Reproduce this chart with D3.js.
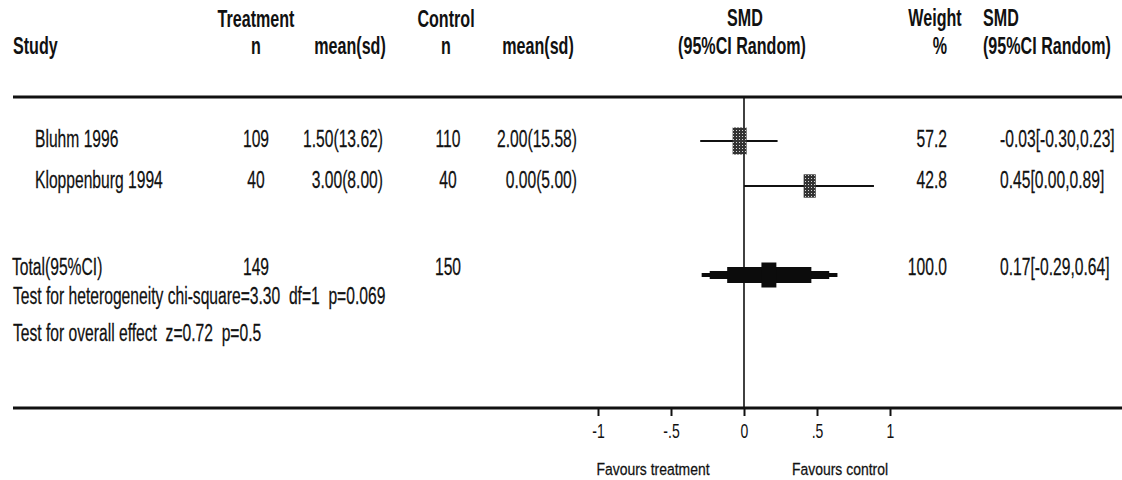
<!DOCTYPE html>
<html><head><meta charset="utf-8">
<script src="https://cdn.jsdelivr.net/npm/d3@7/dist/d3.min.js"></script>
<style>
html,body{margin:0;padding:0;background:#fff;}
svg{display:block;}
text{font-family:"Liberation Sans",Arial,sans-serif;fill:#111;white-space:pre;}
</style></head>
<body>
<svg id="chart" width="1122" height="480"></svg>
<script>
// ---- data ----
const studies = ["Bluhm 1996", "Kloppenburg 1994"];
const treatN = [109, 40];
const treatMeanSd = ["1.50(13.62)", "3.00(8.00)"];
const ctrlN = [110, 40];
const ctrlMeanSd = ["2.00(15.58)", "0.00(5.00)"];
const smd = [-0.03, 0.45];
const ciLow = [-0.30, 0.00];
const ciHigh = [0.23, 0.89];
const weights = [57.2, 42.8];
const totalLabel = "Total(95%CI)";
const totalTreatN = 149;
const totalCtrlN = 150;
const totalSmd = 0.17;
const totalLow = -0.29;
const totalHigh = 0.64;
const totalWeight = 100.0;
const heterogeneityText = "Test for heterogeneity chi-square=3.30  df=1  p=0.069";
const overallText = "Test for overall effect  z=0.72  p=0.5";
const tickValues = [-1, -0.5, 0, 0.5, 1];
const tickLabels = ["-1", "-.5", "0", ".5", "1"];
const favourLabels = ["Favours treatment", "Favours control"];

// ---- layout ----
const svg = d3.select("#chart");
const SX = 0.68;      // horizontal condensation of regular text
const SXB = 0.70;     // horizontal condensation of bold text
const FS = 23;        // main font size
const x = d3.scaleLinear().domain([-1, 1]).range([598, 890]);
const yRow = d3.scalePoint().domain(studies).range([147, 188]);
const yMark = d3.scalePoint().domain(studies).range([141, 186]);
const yTotal = 275;
const yDiamond = 275;
const boxW = d3.scaleSqrt().domain([0, 100]).range([0, 18.5]);
const boxH = d3.scaleSqrt().domain([0, 100]).range([0, 35.7]);

function txt(str, px, py, anchor, opt) {
  opt = opt || {};
  const sx = opt.sx || (opt.bold ? SXB : SX);
  return svg.append("text")
    .attr("transform", `translate(${px},${py}) scale(${sx},1)`)
    .attr("text-anchor", anchor || "start")
    .attr("font-size", opt.fs || FS)
    .attr("font-weight", opt.bold ? "bold" : "normal")
    .attr("stroke", opt.bold ? "none" : "#111")
    .attr("stroke-width", opt.bold ? 0 : 0.25)
    .text(str);
}

// headers
const hb = {bold: true};
txt("Treatment", 256, 27, "middle", hb);
txt("Control", 446, 27, "middle", hb);
txt("SMD", 745, 26, "middle", hb);
txt("Weight", 935, 26, "middle", hb);
txt("SMD", 983, 26, "start", hb);
txt("Study", 13, 54, "start", hb);
txt("n", 256, 54, "middle", hb);
txt("mean(sd)", 350, 54, "middle", hb);
txt("n", 446, 54, "middle", hb);
txt("mean(sd)", 538, 54, "middle", hb);
txt("(95%CI Random)", 742, 54, "middle", hb);
txt("%", 940, 54, "middle", hb);
txt("(95%CI Random)", 983, 54, "start", hb);

// header rule
svg.append("line").attr("x1", 13).attr("x2", 1122).attr("y1", 97).attr("y2", 97)
  .attr("stroke", "#111").attr("stroke-width", 3);

// zero line
svg.append("line").attr("x1", x(0)).attr("x2", x(0)).attr("y1", 97).attr("y2", 408)
  .attr("stroke", "#111").attr("stroke-width", 1.6);

const f2 = v => v.toFixed(2);
function ciText(e, l, h) { return `${f2(e)}[${f2(l)},${f2(h)}]`; }

// study rows
studies.forEach((s, i) => {
  const y = yRow(s);
  txt(s, 35, y, "start");
  txt(String(treatN[i]), 256, y, "middle");
  txt(treatMeanSd[i], 383, y, "end");
  txt(String(ctrlN[i]), 448, y, "middle");
  txt(ctrlMeanSd[i], 577, y, "end");
  txt(weights[i].toFixed(1), 947, y, "end");
  txt(ciText(smd[i], ciLow[i], ciHigh[i]), 1000, y, "start");
});

// pattern for boxes
const defs = svg.append("defs");
const pat = defs.append("pattern").attr("id", "dots").attr("patternUnits", "userSpaceOnUse")
  .attr("width", 3).attr("height", 3);
pat.append("rect").attr("width", 3).attr("height", 3).attr("fill", "#333");
pat.append("rect").attr("x", 1).attr("y", 1).attr("width", 1).attr("height", 1).attr("fill", "#d8d8d8");

const rows = svg.append("g").selectAll("g").data(studies).join("g");
rows.append("line")
  .attr("x1", (d, i) => x(ciLow[i])).attr("x2", (d, i) => x(ciHigh[i]))
  .attr("y1", d => yMark(d)).attr("y2", d => yMark(d))
  .attr("stroke", "#111").attr("stroke-width", 2);
rows.append("rect")
  .attr("x", (d, i) => x(smd[i]) - boxW(weights[i]) / 2)
  .attr("y", (d, i) => yMark(d) - boxH(weights[i]) / 2)
  .attr("width", (d, i) => boxW(weights[i]))
  .attr("height", (d, i) => boxH(weights[i]))
  .attr("fill", "url(#dots)");

// total row
txt(totalLabel, 12, yTotal, "start");
txt(String(totalTreatN), 256, yTotal, "middle");
txt(String(totalCtrlN), 448, yTotal, "middle");
txt(totalWeight.toFixed(1), 947, yTotal, "end");
txt(ciText(totalSmd, totalLow, totalHigh), 1000, yTotal, "start");

// stepped diamond for pooled estimate
const steps = [{h: 2, w: 1}, {h: 4, w: 0.88}, {h: 8, w: 0.62}, {h: 12.5, w: 0.11}];
svg.append("g").selectAll("rect").data(steps).join("rect")
  .attr("x", d => x(totalSmd - d.w * (totalSmd - totalLow)))
  .attr("width", d => x(totalSmd + d.w * (totalHigh - totalSmd)) - x(totalSmd - d.w * (totalSmd - totalLow)))
  .attr("y", d => yDiamond - d.h)
  .attr("height", d => 2 * d.h)
  .attr("fill", "#0c0c0c");

// tests
txt(heterogeneityText, 13, 304, "start");
txt(overallText, 13, 341, "start");

// bottom rule
svg.append("line").attr("x1", 13).attr("x2", 1122).attr("y1", 408).attr("y2", 408)
  .attr("stroke", "#111").attr("stroke-width", 3);

// axis
const axis = d3.axisBottom(x).tickValues(tickValues)
  .tickFormat((d, i) => tickLabels[i]).tickSize(7).tickPadding(8);
const ag = svg.append("g").attr("transform", "translate(0,409)").call(axis);
ag.select(".domain").remove();
ag.selectAll(".tick line").attr("stroke", "#111").attr("stroke-width", 2);
ag.selectAll(".tick text")
  .attr("font-family", '"Liberation Sans",Arial,sans-serif')
  .attr("font-size", 20).attr("fill", "#111")
  .attr("transform", `scale(0.7,1)`);

// favours labels
txt(favourLabels[0], 653, 475, "middle", {fs: 17, sx: 0.82});
txt(favourLabels[1], 840, 475, "middle", {fs: 17, sx: 0.82});
</script>
</body></html>
